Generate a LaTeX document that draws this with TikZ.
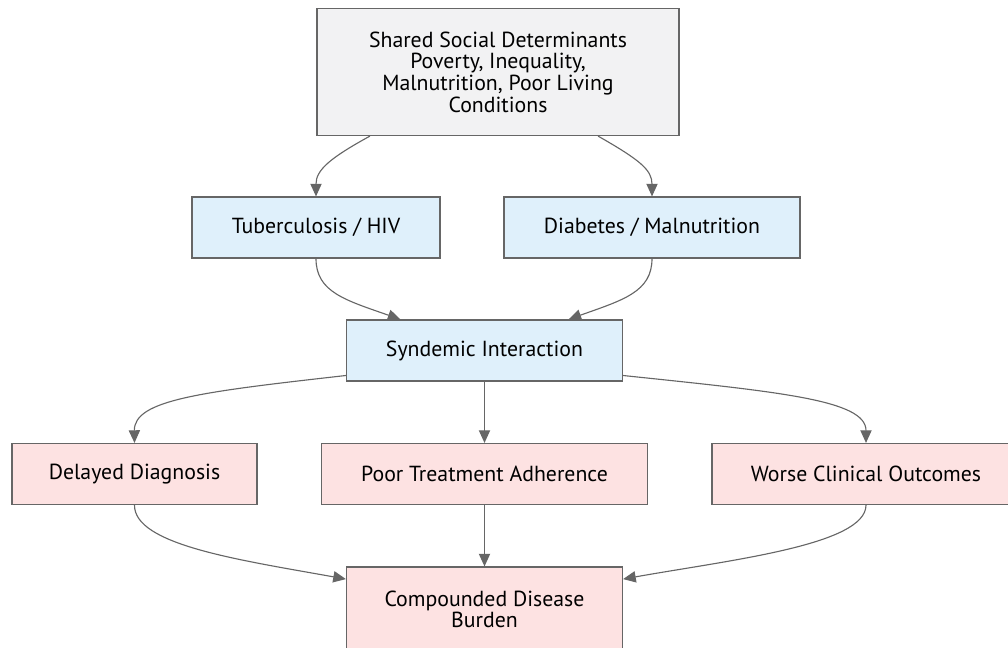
\documentclass[tikz,border=0pt]{standalone}
\usepackage{fontspec}
\setmainfont{PT Sans}
\usepackage{tikz}
\usetikzlibrary{arrows.meta, positioning}

\definecolor{edgegray}{HTML}{666666}
\definecolor{softgray}{HTML}{F2F2F3}
\definecolor{softblue}{HTML}{DFF0FB}
\definecolor{softpink}{HTML}{FDE2E2}

\tikzset{
  box/.style={draw=edgegray, line width=0.8pt, align=center, minimum height=1.525cm,
    inner sep=0pt, font=\fontsize{15.5}{15.4}\selectfont, text=black},
  greybox/.style={box, fill=softgray},
  bluebox/.style={box, fill=softblue},
  pinkbox/.style={box, fill=softpink},
  link/.style={draw=edgegray, line width=0.8pt, -{Triangle[length=9pt, width=8pt]}}
}

\begin{document}
\begin{tikzpicture}[x=0.025cm, y=-0.025cm]
        \useasboundingbox (0,0) rectangle (1008,648);
        \node[greybox, minimum width=9.05cm, minimum height=3.175cm] (soc) at (498,72)
          {Shared Social Determinants\\Poverty, Inequality,\\Malnutrition, Poor Living\\Conditions};
        \node[bluebox, minimum width=6.2cm] (tb) at (316,227.5) {Tuberculosis / HIV};
        \node[bluebox, minimum width=7.4cm] (dm) at (652,227.5) {Diabetes / Malnutrition};
        \node[bluebox, minimum width=6.9cm] (syn) at (484.5,350.5) {Syndemic Interaction};
        \node[pinkbox, minimum width=6.125cm] (delay) at (134.5,474) {Delayed Diagnosis};
        \node[pinkbox, minimum width=8.15cm] (adh) at (484.5,474) {Poor Treatment Adherence};
        \node[pinkbox, minimum width=7.7cm] (worse) at (866,474) {Worse Clinical Outcomes};
        \node[pinkbox, minimum width=6.9cm, minimum height=2.125cm] (burden) at (484.5,609.5)
          {Compounded Disease\\Burden};
        % determinants to the two disease pairs
        \draw[link] ([xshift=-3.2cm]soc.south) .. controls (330,158) and (316,170) .. (tb.north);
        \draw[link] ([xshift=2.5cm]soc.south) .. controls (640,160) and (652,170) .. (dm.north);
        % pairs meet
        \draw[link] (tb.south) .. controls (316,292) and (345,300) .. ([xshift=-2.1cm]syn.north);
        \draw[link] (dm.south) .. controls (652,292) and (623,300) .. ([xshift=2.1cm]syn.north);
        % consequences
        \draw[link] ([yshift=-0.625cm]syn.west) .. controls (200,392) and (134,400) .. (delay.north);
        \draw[link] (syn) -- (adh);
        \draw[link] ([yshift=-0.625cm]syn.east) .. controls (780,392) and (866,400) .. (worse.north);
        % burden
        \draw[link] (delay.south) .. controls (134,545) and (240,560) .. ([yshift=0.76cm]burden.west);
        \draw[link] (adh) -- (burden);
        \draw[link] (worse.south) .. controls (866,545) and (730,560) .. ([yshift=0.76cm]burden.east);
\end{tikzpicture}
\end{document}
